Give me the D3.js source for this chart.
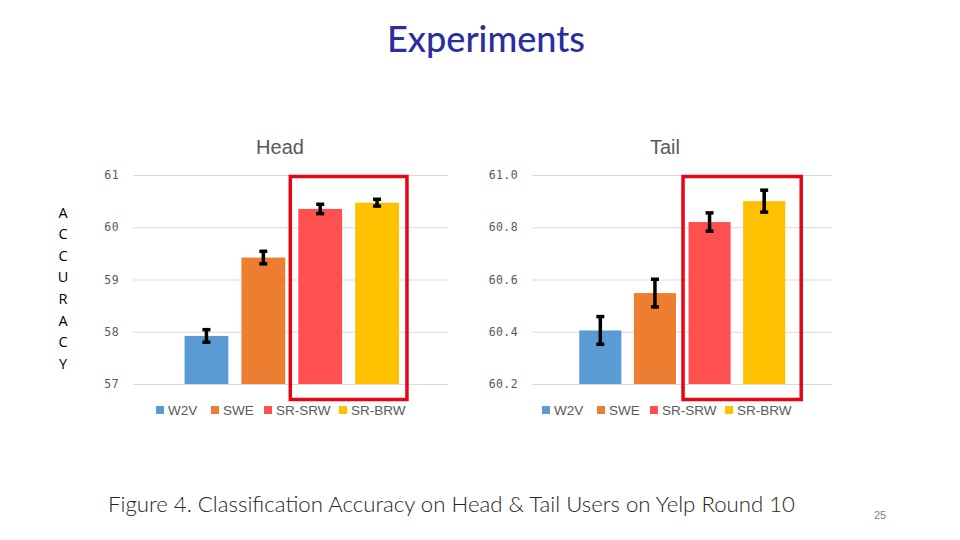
<!DOCTYPE html>
<html>
<head>
<meta charset="utf-8">
<script src="https://cdn.jsdelivr.net/npm/d3@7"></script>
<style>
  html, body { margin: 0; padding: 0; background: #fff; }
  svg { display: block; }
</style>
</head>
<body>
<svg id="chart" width="960" height="540"></svg>
<script>
// ---- data ----
const categories = ["W2V", "SWE", "SR-SRW", "SR-BRW"];
const colors = ["#5B9BD5", "#ED7D31", "#FF5050", "#FFC000"];
const headValues = [57.92, 59.42, 60.35, 60.47];
const headErrors = [0.12, 0.12, 0.09, 0.065];
const tailValues = [60.405, 60.548, 60.82, 60.90];
const tailErrors = [0.053, 0.053, 0.035, 0.042];
const headTicks = [57, 58, 59, 60, 61];
const tailTicks = [60.2, 60.4, 60.6, 60.8, 61.0];
const yLetters = ["A", "C", "C", "U", "R", "A", "C", "Y"];

const svg = d3.select("#chart");

// Slide title
svg.append("text")
  .attr("x", 486).attr("y", 52)
  .attr("text-anchor", "middle")
  .attr("font-family", "Lato, 'Open Sans', sans-serif")
  .attr("font-size", 36).attr("font-weight", 500)
  .attr("fill", "#2B2E9E")
  .attr("textLength", 198).attr("lengthAdjust", "spacingAndGlyphs")
  .text("Experiments");

// Vertical ACCURACY label
svg.append("g").selectAll("text").data(yLetters).join("text")
  .attr("x", 63)
  .attr("y", (d, i) => 217.5 + i * 21.6)
  .attr("text-anchor", "middle")
  .attr("font-family", "'Open Sans', 'Liberation Sans', sans-serif")
  .attr("font-size", 14.5)
  .attr("fill", "#000")
  .text(d => d);

function drawPanel(cfg) {
  const g = svg.append("g");
  const y = d3.scaleLinear().domain(cfg.domain).range([384, 175]);
  const x = d3.scaleBand().domain(categories)
    .range(cfg.bandRange).paddingInner(0.23).paddingOuter(0.115);

  // gridlines + tick labels
  const axis = d3.axisLeft(y).tickValues(cfg.ticks)
    .tickSize(-(cfg.gridX[1] - cfg.gridX[0]))
    .tickPadding(14)
    .tickFormat(cfg.fmt);
  const ax = g.append("g").attr("transform", `translate(${cfg.gridX[0]},0)`).call(axis);
  ax.select(".domain").remove();
  ax.selectAll(".tick line").attr("stroke", "#D9D9D9").attr("stroke-width", 1);
  ax.selectAll(".tick text")
    .attr("fill", "#595959")
    .attr("font-family", "'DejaVu Sans Mono', 'Liberation Mono', monospace")
    .attr("font-size", 11.5)
    .attr("letter-spacing", "0.4px");

  // bars
  g.append("g").selectAll("rect").data(cfg.values).join("rect")
    .attr("x", (d, i) => x(categories[i]))
    .attr("y", d => y(d))
    .attr("width", x.bandwidth())
    .attr("height", d => y(cfg.domain[0]) - y(d))
    .attr("fill", (d, i) => colors[i]);

  // error bars
  const eb = g.append("g").attr("stroke", "#000").attr("stroke-width", 3.5);
  cfg.values.forEach((v, i) => {
    const cx = x(categories[i]) + x.bandwidth() / 2;
    const e = cfg.errors[i];
    eb.append("line").attr("x1", cx).attr("x2", cx).attr("y1", y(v + e)).attr("y2", y(v - e));
    eb.append("line").attr("x1", cx - 4).attr("x2", cx + 4).attr("y1", y(v + e)).attr("y2", y(v + e));
    eb.append("line").attr("x1", cx - 4).attr("x2", cx + 4).attr("y1", y(v - e)).attr("y2", y(v - e));
  });

  // red highlight box
  const bx0 = x(categories[2]) - cfg.boxPad[0];
  const bx1 = x(categories[3]) + x.bandwidth() + cfg.boxPad[1];
  g.append("rect")
    .attr("x", bx0).attr("y", y(cfg.domain[1]) + 1.5)
    .attr("width", bx1 - bx0)
    .attr("height", y(cfg.domain[0]) + 14 - y(cfg.domain[1]))
    .attr("fill", "none").attr("stroke", "#E30613").attr("stroke-width", 3.5);

  // panel title
  g.append("text")
    .attr("x", cfg.titleX).attr("y", 154)
    .attr("text-anchor", "middle")
    .attr("font-family", "'Liberation Sans', Arial, sans-serif")
    .attr("font-size", 20)
    .attr("fill", "#595959")
    .text(cfg.title);

  // legend
  const lg = g.append("g").attr("transform", "translate(0,410)");
  categories.forEach((c, i) => {
    const lx = cfg.legendX[i];
    lg.append("rect").attr("x", lx).attr("y", -4).attr("width", 8).attr("height", 8).attr("fill", colors[i]);
    lg.append("text").attr("x", lx + 12).attr("y", 5)
      .attr("font-family", "'Liberation Sans', Arial, sans-serif")
      .attr("font-size", 13.5)
      .attr("fill", "#595959")
      .text(c);
  });
}

drawPanel({
  title: "Head", titleX: 280,
  domain: [57, 61], ticks: headTicks, fmt: d3.format("d"),
  values: headValues, errors: headErrors,
  gridX: [133, 448], bandRange: [178, 405.5],
  boxPad: [8, 8], legendX: [156, 211, 264, 339]
});

drawPanel({
  title: "Tail", titleX: 665,
  domain: [60.2, 61.0], ticks: tailTicks, fmt: d3.format(".1f"),
  values: tailValues, errors: tailErrors,
  gridX: [532, 832], bandRange: [573, 791.5],
  boxPad: [5.5, 16], legendX: [542, 597, 650, 725]
});

// caption
svg.append("text")
  .attr("x", 108).attr("y", 512)
  .attr("font-family", "Lato, 'Open Sans', sans-serif")
  .attr("font-size", 21).attr("font-weight", 300)
  .attr("fill", "#262626")
  .attr("textLength", 687).attr("lengthAdjust", "spacingAndGlyphs")
  .text("Figure 4. Classification Accuracy on Head & Tail Users on Yelp Round 10");

// page number
svg.append("text")
  .attr("x", 880).attr("y", 519)
  .attr("text-anchor", "middle")
  .attr("font-family", "'Liberation Sans', Arial, sans-serif")
  .attr("font-size", 11)
  .attr("fill", "#7F7F7F")
  .text("25");
</script>
</body>
</html>
